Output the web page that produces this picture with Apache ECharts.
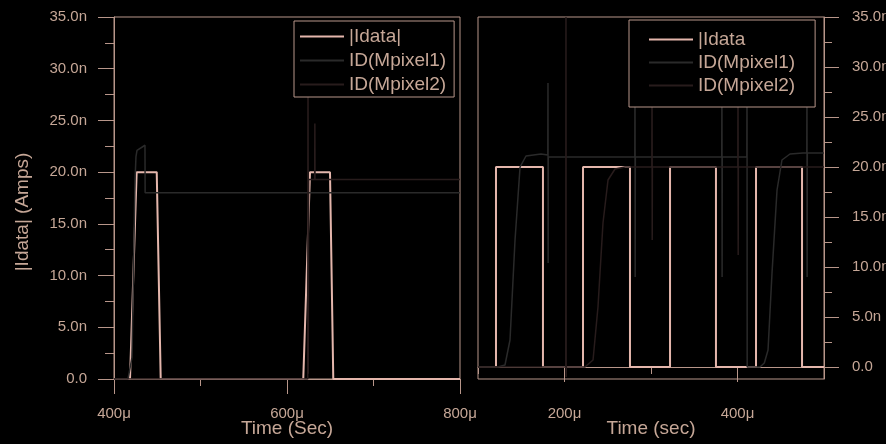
<!DOCTYPE html>
<html><head><meta charset="utf-8">
<script src="https://cdn.jsdelivr.net/npm/echarts@6/dist/echarts.min.js"></script>
<style>html,body{margin:0;padding:0;background:#000;}#c{width:886px;height:444px;}</style>
</head><body><div id="c"></div>
<script>
// ---------- data (time in µs, current in nA) ----------
const leftIdataT = [400, 418.5, 426.2, 449.4, 454.0, 618.8, 626.6, 649.7, 653.5, 800];
const leftIdataV = [0, 0, 20, 20, 0, 0, 20, 20, 0, 0];
const leftM1T = [400, 416.2, 420.8, 422.0, 424.3, 425.4, 426.6, 435.8, 436.0, 800];
const leftM1V = [0, 0, 2.1, 7.9, 19.2, 21.5, 22.1, 22.6, 18.0, 18.0];
const leftM2T = [400, 624.0, 624.3, 624.6, 625.0, 632.0, 632.2, 632.4, 800];
const leftM2V = [0, 0, 33, 0.5, 19.3, 19.3, 24.7, 19.3, 19.3];

const rightIdataT = [100, 120.8, 120.8, 175.1, 175.1, 221.4, 221.4, 275.7, 275.7, 322.0, 322.0, 375.1, 375.1, 421.4, 421.4, 474.6, 474.6, 500];
const rightIdataV = [0, 0, 20, 20, 0, 0, 20, 20, 0, 0, 20, 20, 0, 0, 20, 20, 0, 0];
const rightM1T = [100, 123.1, 131.2, 137.0, 142.8, 148.6, 155.5, 172.8, 180.7, 180.9, 181.1, 181.3, 281.3, 281.5, 281.7, 281.9, 381.8, 382.0, 382.2, 382.4, 410.8, 411.0, 411.2, 426.0, 431.0, 435.3, 439.9, 445.7, 451.4, 460.7, 475.7, 480.1, 480.3, 480.5, 480.7, 500];
const rightM1V = [0, 0, 0.2, 2.7, 12.7, 20.0, 21.1, 21.3, 21.2, 28.4, 10.4, 21.0, 21.0, 30, 9.0, 21.0, 21.0, 30, 9.0, 21.0, 21.0, 30, 0, 0, 0.4, 1.7, 9.4, 17.7, 20.7, 21.3, 21.4, 21.4, 30, 9.0, 21.4, 21.4];
const rightM2T = [100, 201.5, 201.7, 201.9, 202.1, 223.7, 233.0, 238.7, 244.5, 250.3, 258.4, 270.0, 301.0, 301.2, 301.4, 301.6, 400.4, 400.6, 400.8, 401.0, 500];
const rightM2V = [0, 0, 35, -1, 0, 0, 0.7, 6.0, 14.4, 18.7, 19.8, 20.0, 20.0, 30, 12.7, 20.0, 20.0, 30, 11.2, 20.0, 20.0];

const yMajorTicks = [0, 5, 10, 15, 20, 25, 30, 35];
const yMinorTicks = [2.5, 7.5, 12.5, 17.5, 22.5, 27.5, 32.5];
const rightXMajorTicks = [200, 400];
const rightXMinorTicks = [100, 300, 500];

const leftNames = ['|Idata|', 'ID(Mpixel1)', 'ID(Mpixel2)'];
const rightNames = ['|Idata', 'ID(Mpixel1)', 'ID(Mpixel2)'];

// ---------- styles ----------
const FONT = '"Liberation Sans", Arial, sans-serif';
const axisColor = '#b8968a';
const textColor = '#c6a797';
const pink = '#e4b6ac';
const m1Color = '#2a2a2a';
const m2Color = '#281c1c';

const zip = (t, v) => t.map((x, i) => [x, v[i]]);
const yFmt = v => (Math.abs(v) < 1e-9 ? '0.0' : v.toFixed(1) + 'n');
const xFmt = v => v + 'μ';

const lineS = (name, xi, yi, t, v, color, w) => ({
  name, type: 'line', xAxisIndex: xi, yAxisIndex: yi,
  data: zip(t, v), symbol: 'none', color: color,
  lineStyle: { color: color, width: w }, animation: false, silent: true
});

const baseLine = { show: true, lineStyle: { color: axisColor, width: 1 } };
const gridBase = { width: 346, height: 362, top: 17, containLabel: false, outerBoundsMode: 'none' };

const option = {
  backgroundColor: '#000',
  animation: false,
  textStyle: { fontFamily: FONT },
  grid: [
    Object.assign({ left: 114, show: true, borderColor: axisColor, borderWidth: 1, backgroundColor: 'transparent' }, gridBase),
    Object.assign({ left: 478, show: true, borderColor: axisColor, borderWidth: 1, backgroundColor: 'transparent' }, gridBase),
    Object.assign({ left: 478, show: false }, gridBase)
  ],
  xAxis: [
    { gridIndex: 0, type: 'value', min: 400, max: 800, interval: 200,
      axisLine: baseLine,
      axisTick: { show: true, length: 15, lineStyle: { color: axisColor } },
      minorTick: { show: true, splitNumber: 2, length: 7, lineStyle: { color: axisColor } },
      splitLine: { show: false }, minorSplitLine: { show: false },
      axisLabel: { formatter: xFmt, color: textColor, fontSize: 15, margin: 27, fontFamily: FONT, showMinLabel: true, showMaxLabel: true },
      name: 'Time (Sec)', nameLocation: 'middle', nameGap: 40, nameMoveOverlap: false,
      nameTextStyle: { color: textColor, fontSize: 19, fontFamily: FONT } },
    { gridIndex: 1, type: 'value', min: 100, max: 500,
      axisLine: baseLine,
      axisTick: { show: true, length: 15, customValues: rightXMajorTicks, lineStyle: { color: axisColor } },
      splitLine: { show: false },
      axisLabel: { formatter: xFmt, color: textColor, fontSize: 15, margin: 27, fontFamily: FONT, customValues: rightXMajorTicks },
      name: 'Time (sec)', nameLocation: 'middle', nameGap: 40, nameMoveOverlap: false,
      nameTextStyle: { color: textColor, fontSize: 19, fontFamily: FONT } },
    { gridIndex: 2, type: 'value', min: 100, max: 500,
      axisLine: { show: false },
      axisTick: { show: true, length: 7, customValues: rightXMinorTicks, lineStyle: { color: axisColor } },
      splitLine: { show: false },
      axisLabel: { show: false } }
  ],
  yAxis: [
    { gridIndex: 0, type: 'value', min: 0, max: 35, interval: 5,
      axisLine: baseLine,
      axisTick: { show: true, length: 16, lineStyle: { color: axisColor } },
      minorTick: { show: true, splitNumber: 2, length: 9, lineStyle: { color: axisColor } },
      splitLine: { show: false }, minorSplitLine: { show: false },
      axisLabel: { formatter: yFmt, color: textColor, fontSize: 15, margin: 27, fontFamily: FONT },
      name: '|Idata| (Amps)', nameLocation: 'middle', nameGap: 82, nameRotate: 90, nameMoveOverlap: false,
      nameTextStyle: { color: textColor, fontSize: 19, fontFamily: FONT, padding: [0, 28, 0, 0] } },
    { gridIndex: 1, type: 'value', position: 'right', min: -1.2, max: 35,
      axisLine: baseLine,
      axisTick: { show: true, length: 15, customValues: yMajorTicks, lineStyle: { color: axisColor } },
      splitLine: { show: false },
      axisLabel: { formatter: yFmt, color: textColor, fontSize: 15, margin: 28, fontFamily: FONT, customValues: yMajorTicks } },
    { gridIndex: 2, type: 'value', position: 'right', min: -1.2, max: 35,
      axisLine: { show: false },
      axisTick: { show: true, length: 8, customValues: yMinorTicks, lineStyle: { color: axisColor } },
      splitLine: { show: false },
      axisLabel: { show: false } }
  ],
  legend: [
    { data: leftNames, orient: 'vertical', left: 294, top: 21, padding: [6, 8, 3, 6], itemGap: 5,
      itemWidth: 44, itemHeight: 2, icon: 'rect', selectedMode: false,
      backgroundColor: '#000', borderColor: axisColor, borderWidth: 1,
      textStyle: { color: textColor, fontSize: 19, fontFamily: FONT } },
    { data: rightNames, orient: 'vertical', left: 629, top: 20, padding: [10, 20, 12, 20], itemGap: 4,
      itemWidth: 44, itemHeight: 2, icon: 'rect', selectedMode: false,
      backgroundColor: '#000', borderColor: axisColor, borderWidth: 1,
      textStyle: { color: textColor, fontSize: 19, fontFamily: FONT } }
  ],
  series: [
    lineS(leftNames[0], 0, 0, leftIdataT, leftIdataV, pink, 2),
    lineS(leftNames[1], 0, 0, leftM1T, leftM1V, m1Color, 1.5),
    lineS(leftNames[2], 0, 0, leftM2T, leftM2V, m2Color, 1.5),
    lineS(rightNames[0], 1, 1, rightIdataT, rightIdataV, pink, 2),
    lineS(rightNames[1], 1, 1, rightM1T, rightM1V, m1Color, 1.5),
    lineS(rightNames[2], 1, 1, rightM2T, rightM2V, m2Color, 1.5)
  ]
};

const chart = echarts.init(document.getElementById('c'), null, { renderer: 'canvas' });
chart.setOption(option);
</script></body></html>
